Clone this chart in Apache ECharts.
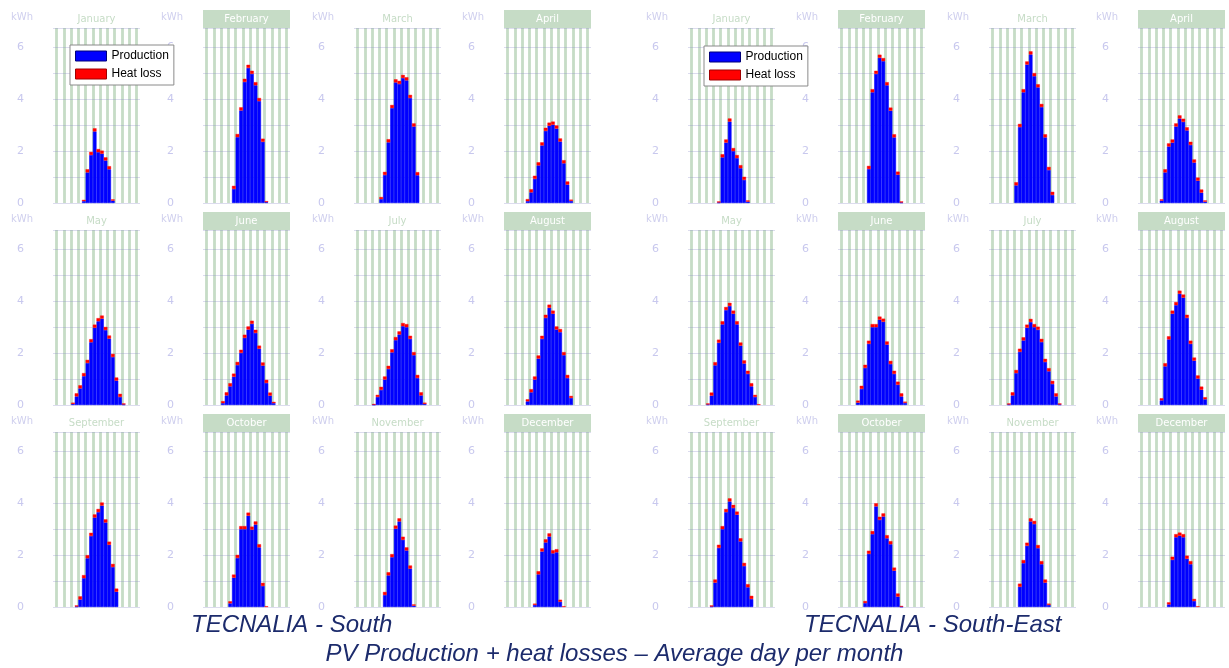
<!DOCTYPE html>
<html>
<head>
<meta charset="utf-8">
<script src="https://cdn.jsdelivr.net/npm/echarts@6/dist/echarts.min.js"></script>
<style>
  html, body { margin: 0; padding: 0; background: #ffffff; }
  #chart { width: 1229px; height: 668px; }
</style>
</head>
<body>
<div id="chart"></div>
<script>
// Hour of day categories (0..23)
const hours = ['0','1','2','3','4','5','6','7','8','9','10','11','12','13','14','15','16','17','18','19','20','21','22','23'];
const months = ['January','February','March','April','May','June','July','August','September','October','November','December'];
const yTicks = [0, 2, 4, 6];

// ---- TECNALIA - South: PV production and heat loss per hour (kWh) ----
const southJanProd = [0,0,0,0,0,0,0,0,0.07,1.18,1.85,2.76,1.96,1.90,1.64,1.30,0.09,0,0,0,0,0,0,0];
const southJanLoss = [0,0,0,0,0,0,0,0,0.05,0.12,0.12,0.12,0.12,0.12,0.12,0.12,0.05,0,0,0,0,0,0,0];
const southFebProd = [0,0,0,0,0,0,0,0,0.54,2.54,3.57,4.67,5.21,4.98,4.54,3.93,2.36,0.03,0,0,0,0,0,0];
const southFebLoss = [0,0,0,0,0,0,0,0,0.12,0.12,0.12,0.12,0.12,0.12,0.12,0.12,0.12,0.04,0,0,0,0,0,0];
const southMarProd = [0,0,0,0,0,0,0,0.15,1.08,2.34,3.66,4.65,4.59,4.82,4.73,4.05,2.95,1.07,0,0,0,0,0,0];
const southMarLoss = [0,0,0,0,0,0,0,0.08,0.12,0.12,0.12,0.12,0.12,0.12,0.12,0.12,0.12,0.12,0,0,0,0,0,0];
const southAprProd = [0,0,0,0,0,0,0.07,0.41,0.93,1.45,2.22,2.78,2.98,3.02,2.87,2.37,1.53,0.71,0.08,0,0,0,0,0];
const southAprLoss = [0,0,0,0,0,0,0.08,0.12,0.12,0.12,0.12,0.12,0.12,0.12,0.12,0.12,0.12,0.12,0.05,0,0,0,0,0];
const southMayProd = [0,0,0,0,0,0.04,0.33,0.64,1.11,1.62,2.42,2.98,3.23,3.33,2.89,2.56,1.85,0.94,0.31,0.02,0,0,0,0];
const southMayLoss = [0,0,0,0,0,0.05,0.12,0.12,0.12,0.12,0.12,0.12,0.12,0.12,0.12,0.12,0.12,0.12,0.12,0.04,0,0,0,0];
const southJunProd = [0,0,0,0,0,0.07,0.37,0.72,1.09,1.54,2.01,2.59,2.91,3.13,2.78,2.17,1.52,0.85,0.36,0.07,0,0,0,0];
const southJunLoss = [0,0,0,0,0,0.08,0.12,0.12,0.12,0.12,0.12,0.12,0.12,0.12,0.12,0.12,0.12,0.12,0.12,0.05,0,0,0,0];
const southJulProd = [0,0,0,0,0,0.01,0.31,0.58,0.98,1.39,2.03,2.50,2.72,3.04,3.00,2.55,1.92,1.04,0.37,0.04,0,0,0,0];
const southJulLoss = [0,0,0,0,0,0.03,0.08,0.12,0.12,0.12,0.12,0.12,0.12,0.12,0.12,0.12,0.12,0.12,0.12,0.05,0,0,0,0];
const southAugProd = [0,0,0,0,0,0,0.14,0.49,0.98,1.79,2.55,3.36,3.75,3.52,2.91,2.81,1.92,1.04,0.27,0,0,0,0,0];
const southAugLoss = [0,0,0,0,0,0,0.08,0.12,0.12,0.12,0.12,0.12,0.12,0.12,0.12,0.12,0.12,0.12,0.08,0,0,0,0,0];
const southSepProd = [0,0,0,0,0,0,0.02,0.29,1.11,1.88,2.74,3.45,3.66,3.91,3.26,2.40,1.54,0.59,0,0,0,0,0,0];
const southSepLoss = [0,0,0,0,0,0,0.04,0.12,0.12,0.12,0.12,0.12,0.12,0.12,0.12,0.12,0.12,0.12,0,0,0,0,0,0];
const southOctProd = [0,0,0,0,0,0,0,0.14,1.13,1.89,3.00,3.00,3.52,2.98,3.18,2.30,0.81,0,0,0,0,0,0,0];
const southOctLoss = [0,0,0,0,0,0,0,0.08,0.12,0.12,0.12,0.12,0.12,0.12,0.12,0.12,0.12,0.03,0,0,0,0,0,0];
const southNovProd = [0,0,0,0,0,0,0,0,0.46,1.22,1.92,3.02,3.30,2.59,2.18,1.48,0.05,0,0,0,0,0,0,0];
const southNovLoss = [0,0,0,0,0,0,0,0,0.12,0.12,0.12,0.12,0.12,0.12,0.12,0.12,0.05,0,0,0,0,0,0,0];
const southDecProd = [0,0,0,0,0,0,0,0,0.08,1.26,2.14,2.49,2.72,2.07,2.11,0.20,0,0,0,0,0,0,0,0];
const southDecLoss = [0,0,0,0,0,0,0,0,0.05,0.12,0.12,0.12,0.12,0.12,0.12,0.08,0.03,0,0,0,0,0,0,0];

// ---- TECNALIA - South-East ----
const eastJanProd = [0,0,0,0,0,0,0,0,0.02,1.76,2.33,3.14,2.00,1.73,1.34,0.89,0.05,0,0,0,0,0,0,0];
const eastJanLoss = [0,0,0,0,0,0,0,0,0.04,0.12,0.12,0.12,0.12,0.12,0.12,0.12,0.05,0,0,0,0,0,0,0];
const eastFebProd = [0,0,0,0,0,0,0,0,1.31,4.27,4.98,5.60,5.47,4.54,3.56,2.53,1.09,0.02,0,0,0,0,0,0];
const eastFebLoss = [0,0,0,0,0,0,0,0,0.12,0.12,0.12,0.12,0.12,0.12,0.12,0.12,0.12,0.04,0,0,0,0,0,0];
const eastMarProd = [0,0,0,0,0,0,0,0.68,2.93,4.27,5.34,5.73,4.89,4.46,3.70,2.53,1.27,0.31,0,0,0,0,0,0];
const eastMarLoss = [0,0,0,0,0,0,0,0.12,0.12,0.12,0.12,0.12,0.12,0.12,0.12,0.12,0.12,0.12,0,0,0,0,0,0];
const eastAprProd = [0,0,0,0,0,0,0.09,1.18,2.18,2.33,2.95,3.26,3.13,2.80,2.24,1.56,0.86,0.40,0.05,0,0,0,0,0];
const eastAprLoss = [0,0,0,0,0,0,0.05,0.12,0.12,0.12,0.12,0.12,0.12,0.12,0.12,0.12,0.12,0.12,0.05,0,0,0,0,0];
const eastMayProd = [0,0,0,0,0,0.02,0.36,1.53,2.40,3.11,3.66,3.82,3.52,3.11,2.29,1.60,1.20,0.72,0.31,0,0,0,0,0];
const eastMayLoss = [0,0,0,0,0,0.04,0.12,0.12,0.12,0.12,0.12,0.12,0.12,0.12,0.12,0.12,0.12,0.12,0.08,0.03,0,0,0,0];
const eastJunProd = [0,0,0,0,0,0.09,0.62,1.43,2.36,3.00,3.00,3.29,3.21,2.33,1.58,1.20,0.78,0.33,0.08,0,0,0,0,0];
const eastJunLoss = [0,0,0,0,0,0.08,0.12,0.12,0.12,0.12,0.12,0.12,0.12,0.12,0.12,0.12,0.12,0.12,0.05,0,0,0,0,0];
const eastJulProd = [0,0,0,0,0,0.02,0.37,1.23,2.05,2.49,2.98,3.20,3.00,2.90,2.43,1.66,1.30,0.81,0.33,0.02,0,0,0,0];
const eastJulLoss = [0,0,0,0,0,0.04,0.12,0.12,0.12,0.12,0.12,0.12,0.12,0.12,0.12,0.12,0.12,0.12,0.12,0.04,0,0,0,0];
const eastAugProd = [0,0,0,0,0,0,0.18,1.49,2.53,3.52,3.85,4.29,4.14,3.36,2.36,1.71,1.02,0.59,0.22,0,0,0,0,0];
const eastAugLoss = [0,0,0,0,0,0,0.08,0.12,0.12,0.12,0.12,0.12,0.12,0.12,0.12,0.12,0.12,0.12,0.08,0,0,0,0,0];
const eastSepProd = [0,0,0,0,0,0,0.02,0.94,2.28,3.00,3.66,4.07,3.82,3.56,2.53,1.58,0.76,0.31,0,0,0,0,0,0];
const eastSepLoss = [0,0,0,0,0,0,0.04,0.12,0.12,0.12,0.12,0.12,0.12,0.12,0.12,0.12,0.12,0.12,0,0,0,0,0,0];
const eastOctProd = [0,0,0,0,0,0,0,0.15,2.05,2.81,3.88,3.36,3.49,2.65,2.42,1.40,0.40,0.01,0,0,0,0,0,0];
const eastOctLoss = [0,0,0,0,0,0,0,0.08,0.12,0.12,0.12,0.12,0.12,0.12,0.12,0.12,0.12,0.03,0,0,0,0,0,0];
const eastNovProd = [0,0,0,0,0,0,0,0,0.78,1.69,2.36,3.30,3.20,2.27,1.65,0.94,0.08,0,0,0,0,0,0,0];
const eastNovLoss = [0,0,0,0,0,0,0,0,0.12,0.12,0.12,0.12,0.12,0.12,0.12,0.12,0.05,0,0,0,0,0,0,0];
const eastDecProd = [0,0,0,0,0,0,0,0,0.10,1.82,2.69,2.75,2.69,1.86,1.65,0.23,0,0,0,0,0,0,0,0];
const eastDecLoss = [0,0,0,0,0,0,0,0,0.08,0.12,0.12,0.12,0.12,0.12,0.12,0.08,0.03,0,0,0,0,0,0,0];

const southProd = [southJanProd, southFebProd, southMarProd, southAprProd, southMayProd, southJunProd,
                   southJulProd, southAugProd, southSepProd, southOctProd, southNovProd, southDecProd];
const southLoss = [southJanLoss, southFebLoss, southMarLoss, southAprLoss, southMayLoss, southJunLoss,
                   southJulLoss, southAugLoss, southSepLoss, southOctLoss, southNovLoss, southDecLoss];
const eastProd = [eastJanProd, eastFebProd, eastMarProd, eastAprProd, eastMayProd, eastJunProd,
                  eastJulProd, eastAugProd, eastSepProd, eastOctProd, eastNovProd, eastDecProd];
const eastLoss = [eastJanLoss, eastFebLoss, eastMarLoss, eastAprLoss, eastMayLoss, eastJunLoss,
                  eastJulLoss, eastAugLoss, eastSepLoss, eastOctLoss, eastNovLoss, eastDecLoss];

const siteNames = ['TECNALIA - South', 'TECNALIA - South-East'];
const footer = 'PV Production + heat losses \u2013 Average day per month';

// ---- layout ----
const colLeft = [53, 203, 354, 504, 688, 838, 989, 1138];
const rowTop = [28, 230, 432];
const plotW = 87, plotH = 175;
const stripeGreen = '#c6dcc6';
const axisLavender = '#c8c8ee';

// night hours carry no bar at all (so no outline is drawn on the baseline)
const nightless = (arr) => arr.map((v) => (v === 0 ? null : v));

const grid = [], xAxis = [], yAxis = [], series = [], title = [];
const sets = [[southProd, southLoss], [eastProd, eastLoss]];

let p = 0;
for (let half = 0; half < 2; half++) {
  for (let r = 0; r < 3; r++) {
    for (let c = 0; c < 4; c++) {
      const m = r * 4 + c;
      const col = half * 4 + c;
      const left = colLeft[col], top = rowTop[r];
      grid.push({ left: left, top: top, width: plotW, height: plotH });
      // hour categories carrying the bars
      xAxis.push({
        type: 'category', gridIndex: p, data: hours, boundaryGap: true, position: 'bottom', z: 1,
        axisLine: { show: false }, axisTick: { show: false }, axisLabel: { show: false },
        splitLine: { show: false }
      });
      // hour scale for the green two-hour stripes (on the odd hours)
      xAxis.push({
        type: 'value', gridIndex: p, min: 0, max: 24, interval: 2, position: 'top', z: 0,
        axisLine: { show: false }, axisTick: { show: false }, axisLabel: { show: false },
        splitLine: { show: false },
        minorTick: { show: false, splitNumber: 2 },
        minorSplitLine: { show: true, lineStyle: { color: stripeGreen, width: 2.8 } }
      });
      yAxis.push({
        type: 'value', gridIndex: p, min: 0, max: 6.75, interval: 1, z: 1,
        name: 'kWh', nameLocation: 'end', nameGap: 6,
        nameTextStyle: { color: '#cfcfee', fontSize: 10, fontFamily: 'DejaVu Sans', align: 'right', padding: [0, 20, 0, 0] },
        axisLine: { show: false }, axisTick: { show: false },
        axisLabel: {
          color: axisLavender, fontSize: 11, fontFamily: 'DejaVu Sans', margin: 29, showMaxLabel: false,
          formatter: (v) => (yTicks.indexOf(v) >= 0 ? String(v) : '')
        },
        splitLine: { show: true, lineStyle: { color: 'rgba(140,140,200,0.30)', width: 1 } }
      });
      const boxed = (c % 2 === 1);
      title.push({
        text: '{t|' + months[m] + '}',
        left: left, top: top - 18, padding: 0,
        textStyle: {
          fontWeight: 'normal',
          rich: {
            t: {
              width: plotW, height: 18, lineHeight: 18, align: 'center',
              fontFamily: 'DejaVu Sans', fontSize: 10, fontWeight: 'normal',
              color: boxed ? '#ffffff' : stripeGreen,
              backgroundColor: boxed ? stripeGreen : 'transparent'
            }
          }
        }
      });
      const stackId = 'panel' + p;
      series.push({
        name: 'Production', type: 'bar', xAxisIndex: 2 * p, yAxisIndex: p, stack: stackId,
        data: nightless(sets[half][0][m]), barCategoryGap: '0%',
        itemStyle: { color: '#0000ff', borderColor: '#0000ff', borderWidth: 0.6 },
        emphasis: { disabled: true }
      });
      series.push({
        name: 'Heat loss', type: 'bar', xAxisIndex: 2 * p, yAxisIndex: p, stack: stackId,
        data: nightless(sets[half][1][m]), barCategoryGap: '0%',
        itemStyle: { color: '#ff0000', borderColor: '#ff0000', borderWidth: 0.4 },
        emphasis: { disabled: true }
      });
      p++;
    }
  }
}

// Site captions and footer
const captionStyle = { fontFamily: 'Liberation Sans', fontStyle: 'italic', fontWeight: 'normal', fontSize: 24, color: '#1c2b6c' };
title.push({ text: siteNames[0], left: 191, top: 613, padding: 0, textStyle: captionStyle });
title.push({ text: siteNames[1], left: 804, top: 613, padding: 0, textStyle: captionStyle });
title.push({ text: footer, left: 'center', top: 642, padding: 0, textStyle: captionStyle });

const legendBase = {
  orient: 'vertical', icon: 'rect', itemWidth: 31, itemHeight: 10, itemGap: 6,
  padding: [5, 5, 5, 5], borderColor: '#8a8a8a', borderWidth: 1, backgroundColor: '#ffffff',
  textStyle: { fontFamily: 'Liberation Sans', fontSize: 12, color: '#000000' },
  data: [
    { name: 'Production', itemStyle: { borderColor: '#00007a', borderWidth: 1 } },
    { name: 'Heat loss', itemStyle: { borderColor: '#a00000', borderWidth: 1 } }
  ],
  selectedMode: false
};

const chart = echarts.init(document.getElementById('chart'), null, { renderer: 'canvas' });
chart.setOption({
  animation: false,
  backgroundColor: '#ffffff',
  title: title,
  legend: [
    Object.assign({}, legendBase, { left: 70, top: 45 }),
    Object.assign({}, legendBase, { left: 704, top: 46 })
  ],
  grid: grid,
  xAxis: xAxis,
  yAxis: yAxis,
  series: series
});
</script>
</body>
</html>
